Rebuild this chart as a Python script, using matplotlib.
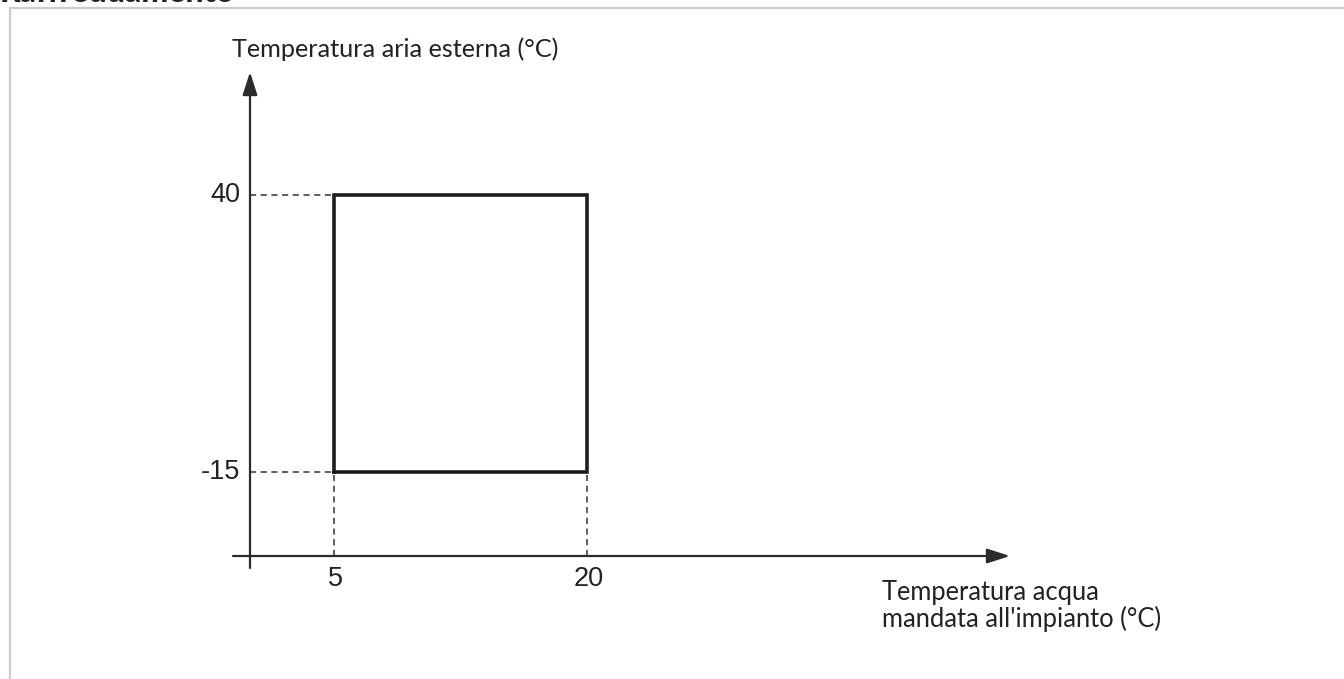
#program to plot the operating envelope (cooling)

import matplotlib.pyplot as plt
from matplotlib.lines import Line2D

########################################################################
### data ###
########################################################################

# operating limits
water_limits = [5, 20]      # temperatura acqua mandata (°C)
air_limits = [-15, 40]      # temperatura aria esterna (°C)

x_ticks = [5, 20]
y_ticks = [-15, 40]

title = 'Raffreddamento'
y_label = 'Temperatura aria esterna (°C)'
x_label = 'Temperatura acqua\nmandata all\'impianto (°C)'

########################################################################
### plot ###
########################################################################

W, H = 1344, 679
fig = plt.figure(figsize=(W / 100, H / 100), dpi=100)
ax = fig.add_axes([0, 0, 1, 1])
ax.set_axis_off()

# scale: x=0 at px 250, 16.87 px per degree; y=40 at px 195, 5.036 px per degree
sx, sy = 253 / 15, 277 / 55
ax.set_xlim(-250 / sx, (W - 250) / sx)
ax.set_ylim(40 - (H - 195) / sy, 40 + 195 / sy)

x_axis_y = 40 - (556 - 195) / sy
y_axis_bottom = 40 - (568 - 195) / sy
y_axis_top = 40 + (195 - 72) / sy
x_axis_left = -17 / sx
x_axis_right = (1010 - 250) / sx

axis_col = '#2b2b2b'
arrow = dict(arrowstyle='-|>,head_length=1.4,head_width=0.45', color=axis_col,
             lw=1.6, shrinkA=0, shrinkB=0)

# axes with arrows
ax.annotate('', xy=(0, y_axis_top), xytext=(0, y_axis_bottom), arrowprops=arrow)
ax.annotate('', xy=(x_axis_right, x_axis_y), xytext=(x_axis_left, x_axis_y),
            arrowprops=arrow)

# operating area
x0, x1 = water_limits
y0, y1 = air_limits
ax.plot([x0, x1, x1, x0, x0], [y0, y0, y1, y1, y0], color='#1e1e1e', lw=2.6,
        solid_joinstyle='miter')

# dashed guides
dash = dict(color='#333333', lw=1.1, ls=(0, (4, 3)))
for y in y_ticks:
    ax.plot([0, x0], [y, y], **dash)
for x in x_ticks:
    ax.plot([x, x], [x_axis_y, y0], **dash)

# tick labels
for y in y_ticks:
    ax.text(-10 / sx, y, str(y), ha='right', va='center', fontsize=19.5,
            family='Liberation Sans', color='#222222')
for x in x_ticks:
    ax.text(x + 1 / sx, x_axis_y - 10 / sy, str(x), ha='center', va='top',
            fontsize=19.5, family='Liberation Sans', color='#222222')

# axis titles
fig.text(232 / W, 1 - 57 / H, y_label, ha='left', va='baseline', fontsize=18.2,
         family='Lato', color='#222222')
fig.text(882 / W, 1 - 627 / H, x_label, ha='left', va='baseline', fontsize=18.4,
         family='Lato', color='#222222', linespacing=1.05)

# cut off section title and frame
fig.text(0, 1 - 2.5 / H, title, ha='left', va='baseline', fontsize=23,
         family='Lato', weight='black', color='#222222')
fig.add_artist(Line2D([10 / W, 1], [1 - 8 / H, 1 - 8 / H], color='#cccccc', lw=1.6))
fig.add_artist(Line2D([10 / W, 10 / W], [0, 1 - 8 / H], color='#cccccc', lw=1.6))

fig.savefig('out.png', dpi=100)
